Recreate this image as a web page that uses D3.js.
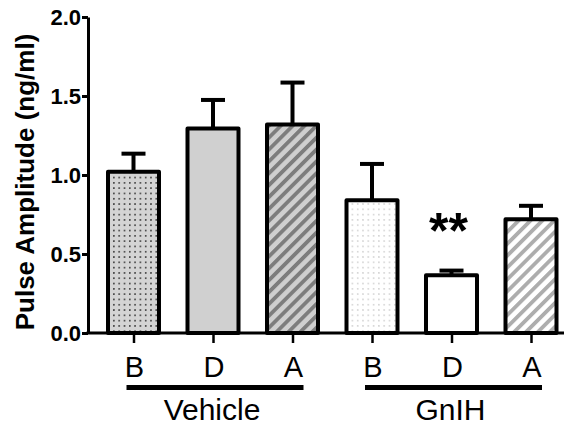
<!DOCTYPE html>
<html><head><meta charset="utf-8">
<script src="https://cdn.jsdelivr.net/npm/d3@7"></script>
<style>body{margin:0;background:#fff}svg{display:block}</style>
</head><body>
<script>
const groups = ["Vehicle", "GnIH"];
const phases = ["B", "D", "A"];
const means = [1.02, 1.295, 1.32, 0.84, 0.365, 0.72];
const sems  = [0.115, 0.18, 0.265, 0.23, 0.03, 0.085];
const yTicks = [0, 0.5, 1.0, 1.5, 2.0];
const fills = ["dotsDark", "solidGray", "stripesDark", "dotsLight", "white", "stripesLight"];

const W = 564, H = 429;
const svg = d3.select("body").append("svg").attr("width", W).attr("height", H);
const font = "Liberation Sans, Arial, Helvetica, sans-serif";

const defs = svg.append("defs");
function dots(id, bg, fg, r) {
  const p = defs.append("pattern").attr("id", id).attr("patternUnits", "userSpaceOnUse")
    .attr("width", 5.3).attr("height", 5.3);
  p.append("rect").attr("width", 5.3).attr("height", 5.3).attr("fill", bg);
  p.append("circle").attr("cx", 2.6).attr("cy", 2.6).attr("r", r).attr("fill", fg);
}
function stripes(id, bg, fg) {
  const p = defs.append("pattern").attr("id", id).attr("patternUnits", "userSpaceOnUse")
    .attr("width", 8.4).attr("height", 8.4).attr("patternTransform", "rotate(45)");
  p.append("rect").attr("width", 8.4).attr("height", 8.4).attr("fill", bg);
  p.append("rect").attr("x", 0).attr("width", 3.8).attr("height", 8.4).attr("fill", fg);
}
dots("dotsDark", "#d4d4d4", "#222", 0.85);
dots("dotsLight", "#ffffff", "#c4c4c4", 0.75);
stripes("stripesDark", "#cfcfcf", "#7d7d7d");
stripes("stripesLight", "#ffffff", "#adadad");
const fillOf = k => k === "solidGray" ? "#d0d0d0" : k === "white" ? "#ffffff" : `url(#${k})`;

const cats = [];
groups.forEach(g => phases.forEach(p => cats.push({g, p, key: g + "-" + p})));
cats.forEach((c, i) => { c.mean = means[i]; c.sem = sems[i]; c.fill = fills[i]; });

const axisX = 88, plotRight = 564;
const y = d3.scaleLinear().domain([0, 2]).range([333, 17]);
const x = d3.scalePoint().domain(cats.map(c => c.key)).range([133.5, 531]);
const barW = 51, capW = 24;

// error bars (drawn behind bars)
const eb = svg.append("g").attr("stroke", "#000").attr("stroke-width", 4);
cats.forEach(c => {
  eb.append("line").attr("x1", x(c.key)).attr("x2", x(c.key))
    .attr("y1", y(c.mean)).attr("y2", y(c.mean + c.sem));
  eb.append("line").attr("x1", x(c.key) - capW / 2).attr("x2", x(c.key) + capW / 2)
    .attr("y1", y(c.mean + c.sem)).attr("y2", y(c.mean + c.sem));
});

// bars
svg.append("g").selectAll("rect").data(cats).join("rect")
  .attr("x", d => x(d.key) - barW / 2).attr("width", barW)
  .attr("y", d => y(d.mean)).attr("height", d => y(0) - y(d.mean))
  .attr("fill", d => fillOf(d.fill))
  .attr("stroke", "#000").attr("stroke-width", 4).attr("stroke-linejoin", "round");

// y axis
const ya = svg.append("g").attr("transform", `translate(${axisX},0)`)
  .call(d3.axisLeft(y).tickValues(yTicks).tickFormat(d3.format(".1f")).tickSize(6).tickSizeOuter(0).tickPadding(1));
ya.select(".domain").attr("stroke-width", 3);
ya.selectAll(".tick line").attr("stroke-width", 3);
ya.selectAll(".tick text").attr("font-family", font).attr("font-weight", "bold")
  .attr("font-size", 22).attr("fill", "#000").attr("dy", "0.36em");

// x baseline and ticks
svg.append("line").attr("x1", axisX - 1.5).attr("x2", plotRight).attr("y1", y(0)).attr("y2", y(0))
  .attr("stroke", "#000").attr("stroke-width", 3);
const xa = svg.append("g").attr("transform", `translate(0,${y(0)})`)
  .call(d3.axisBottom(x).tickSize(10).tickFormat(""));
xa.select(".domain").remove();
xa.selectAll(".tick line").attr("stroke-width", 2.5);

// phase labels
svg.append("g").selectAll("text").data(cats).join("text")
  .attr("x", d => x(d.key) + 1).attr("y", 377)
  .attr("text-anchor", "middle").attr("font-family", font).attr("font-size", 29)
  .text(d => d.p);

// group lines and labels
groups.forEach(g => {
  const k0 = g + "-" + phases[0], k1 = g + "-" + phases[phases.length - 1];
  svg.append("line").attr("x1", x(k0) - 7).attr("x2", x(k1) + 11).attr("y1", 387.5).attr("y2", 387.5)
    .attr("stroke", "#000").attr("stroke-width", 5);
  svg.append("text").attr("x", (x(k0) + x(k1)) / 2 - 1).attr("y", 420)
    .attr("text-anchor", "middle").attr("font-family", font).attr("font-size", 30).text(g);
});

// significance
const sig = cats[4];
svg.append("text").attr("x", x(sig.key) - 3).attr("y", y(sig.mean + sig.sem) - 23)
  .attr("text-anchor", "middle").attr("font-family", font).attr("font-weight", "bold")
  .attr("font-size", 50).text("**");

// y title
svg.append("text").attr("transform", `translate(34,182) rotate(-90)`)
  .attr("text-anchor", "middle").attr("font-family", font).attr("font-weight", "bold")
  .attr("font-size", 26).text("Pulse Amplitude (ng/ml)");
</script>
</body></html>
